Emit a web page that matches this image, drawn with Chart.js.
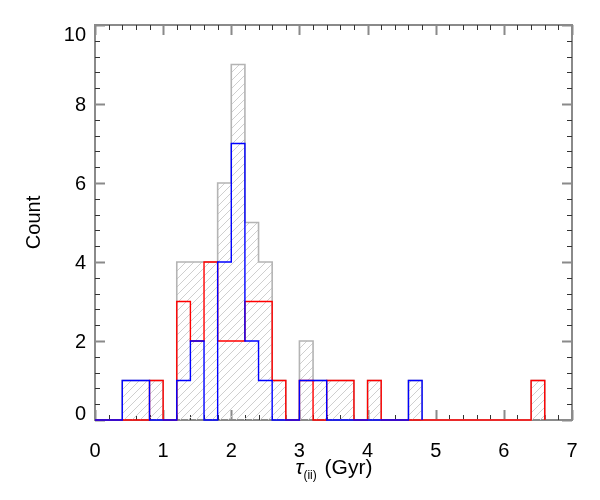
<!DOCTYPE html>
<html>
<head>
<meta charset="utf-8">
<title>Histogram</title>
<script src="https://cdn.jsdelivr.net/npm/chart.js@4"></script>
<style>
    body { margin: 0; background: #fff; }
    #wrap { position: relative; width: 600px; height: 500px; }
    #xTitle {
        position: absolute; left: 0; top: 455px; width: 600px;
        text-align: center; padding-left: 68px; box-sizing: border-box;
        font: 21px "Liberation Sans", Arial, sans-serif; color: #000;
    }
    #xTitle sub { font-size: 12px; vertical-align: -5px; margin-right: 2px; }
</style>
</head>
<body>
<div id="wrap">
    <canvas id="histChart" width="600" height="500"></canvas>
    <div id="xTitle"><i>τ</i><sub>(ii)</sub> (Gyr)</div>
</div>
<script>
// Bin edges (Gyr), one per 0.2 step
const binEdges = [0.0, 0.2, 0.4, 0.6, 0.8, 1.0, 1.2, 1.4, 1.6, 1.8, 2.0, 2.2, 2.4, 2.6, 2.8,
    3.0, 3.2, 3.4, 3.6, 3.8, 4.0, 4.2, 4.4, 4.6, 4.8, 5.0, 5.2, 5.4, 5.6, 5.8, 6.0, 6.2, 6.4, 6.6];

// Counts per bin
const totalCounts = [0, 0, 1, 1, 1, 0, 4, 4, 4, 6, 9, 5, 4, 1, 0, 2, 1, 1, 1, 0, 1, 0, 0, 1,
    0, 0, 0, 0, 0, 0, 0, 0, 1];
const redCounts = [0, 0, 0, 0, 1, 0, 3, 2, 4, 2, 2, 3, 3, 1, 0, 1, 0, 1, 1, 0, 1, 0, 0, 0,
    0, 0, 0, 0, 0, 0, 0, 0, 1];
const blueCounts = [0, 0, 1, 1, 0, 0, 1, 2, 0, 4, 7, 2, 1, 0, 0, 1, 1, 0, 0, 0, 0, 0, 0, 1];

// Axis ticks
const xTickValues = [0, 1, 2, 3, 4, 5, 6, 7];
const yTickValues = [0, 2, 4, 6, 8, 10];

const labelFont = '20px "Liberation Sans", Arial, sans-serif';

// Turn bin counts into step points (left edge of each bin, plus closing edge)
function toSteps(counts) {
    const pts = counts.map((c, i) => ({ x: binEdges[i], y: c }));
    pts.push({ x: binEdges[counts.length], y: 0 });
    return pts;
}

// Diagonal hatch pattern for the total histogram
function makeHatch() {
    const size = 8;
    const c = document.createElement('canvas');
    c.width = size;
    c.height = size;
    const g = c.getContext('2d');
    g.strokeStyle = '#cfcfcf';
    g.lineWidth = 1;
    g.beginPath();
    g.moveTo(0, size); g.lineTo(size, 0);
    g.moveTo(-size / 2, size / 2); g.lineTo(size / 2, -size / 2);
    g.moveTo(size / 2, size * 1.5); g.lineTo(size * 1.5, size / 2);
    g.stroke();
    return g.createPattern(c, 'repeat');
}

// Box frame with inward ticks on all four sides
const framePlugin = {
    id: 'frame',
    beforeDatasetsDraw(chart) {
        const { ctx, chartArea: a, scales } = chart;
        const xs = scales.x, ys = scales.y;
        ctx.save();
        ctx.strokeStyle = '#8a8a8a';
        ctx.lineWidth = 2;
        ctx.strokeRect(a.left, a.top, a.right - a.left, a.bottom - a.top);

        // x ticks: major every 1, minor every 0.2
        for (let k = 0; k <= 35; k++) {
            const px = Math.round(xs.getPixelForValue(k * 0.2)) + 0.5;
            const major = k % 5 === 0;
            const len = major ? 10 : 5;
            ctx.strokeStyle = major ? '#8a8a8a' : '#333';
            ctx.lineWidth = major ? 2 : 1;
            ctx.beginPath();
            ctx.moveTo(px, a.bottom); ctx.lineTo(px, a.bottom - len);
            ctx.moveTo(px, a.top); ctx.lineTo(px, a.top + len);
            ctx.stroke();
        }
        // y ticks: major every 2, minor every 0.4
        for (let k = 0; k <= 25; k++) {
            const py = Math.round(ys.getPixelForValue(k * 0.4)) + 0.5;
            const major = k % 5 === 0;
            const len = major ? 10 : 5;
            ctx.strokeStyle = major ? '#8a8a8a' : '#333';
            ctx.lineWidth = major ? 2 : 1;
            ctx.beginPath();
            ctx.moveTo(a.left, py); ctx.lineTo(a.left + len, py);
            ctx.moveTo(a.right, py); ctx.lineTo(a.right - len, py);
            ctx.stroke();
        }
        ctx.restore();
    },
    // y labels kept inside the frame height, like the original plot
    afterDraw(chart) {
        const { ctx, chartArea: a, scales } = chart;
        ctx.save();
        ctx.font = labelFont;
        ctx.fillStyle = '#000';
        ctx.textAlign = 'right';
        ctx.textBaseline = 'middle';
        yTickValues.forEach(v => {
            let py = scales.y.getPixelForValue(v);
            py = Math.min(Math.max(py, a.top + 9), a.bottom - 7);
            ctx.fillText(String(v), a.left - 9, py + 1);
        });
        ctx.restore();
    }
};

function initChart() {
    const ctx = document.getElementById('histChart').getContext('2d');
    const tickFont = { family: '"Liberation Sans", Arial, sans-serif', size: 20 };

    new Chart(ctx, {
        type: 'line',
        data: {
            datasets: [
                {
                    data: toSteps(blueCounts),
                    borderColor: '#0000ff',
                    borderWidth: 1.4,
                    stepped: true,
                    fill: false,
                    pointRadius: 0,
                    clip: 4,
                    order: 1
                },
                {
                    data: toSteps(redCounts),
                    borderColor: '#ff0000',
                    borderWidth: 1.4,
                    stepped: true,
                    fill: false,
                    pointRadius: 0,
                    clip: 4,
                    order: 2
                },
                {
                    data: toSteps(totalCounts),
                    borderColor: '#b4b4b4',
                    backgroundColor: makeHatch(),
                    borderWidth: 1.6,
                    stepped: true,
                    fill: 'origin',
                    pointRadius: 0,
                    clip: 4,
                    order: 3
                }
            ]
        },
        options: {
            responsive: false,
            animation: false,
            layout: { padding: { left: 0, right: 28, top: 25, bottom: 0 } },
            plugins: {
                legend: { display: false },
                tooltip: { enabled: false }
            },
            scales: {
                x: {
                    type: 'linear',
                    min: 0,
                    max: 7,
                    afterBuildTicks: (scale) => { scale.ticks = xTickValues.map(v => ({ value: v })); },
                    afterFit: (scale) => { scale.height = 80; },
                    grid: { display: false, drawTicks: false },
                    border: { display: false },
                    ticks: { color: '#000', font: tickFont, padding: 19, maxRotation: 0 }
                },
                y: {
                    min: 0,
                    max: 10,
                    afterBuildTicks: (scale) => { scale.ticks = yTickValues.map(v => ({ value: v })); },
                    afterFit: (scale) => { scale.width = 95; },
                    grid: { display: false, drawTicks: false },
                    border: { display: false },
                    ticks: { display: false },
                    title: {
                        display: true,
                        text: 'Count',
                        color: '#000',
                        font: tickFont,
                        padding: { top: 22, bottom: 0 }
                    }
                }
            }
        },
        plugins: [framePlugin]
    });
}

document.addEventListener('DOMContentLoaded', initChart);
</script>
</body>
</html>
